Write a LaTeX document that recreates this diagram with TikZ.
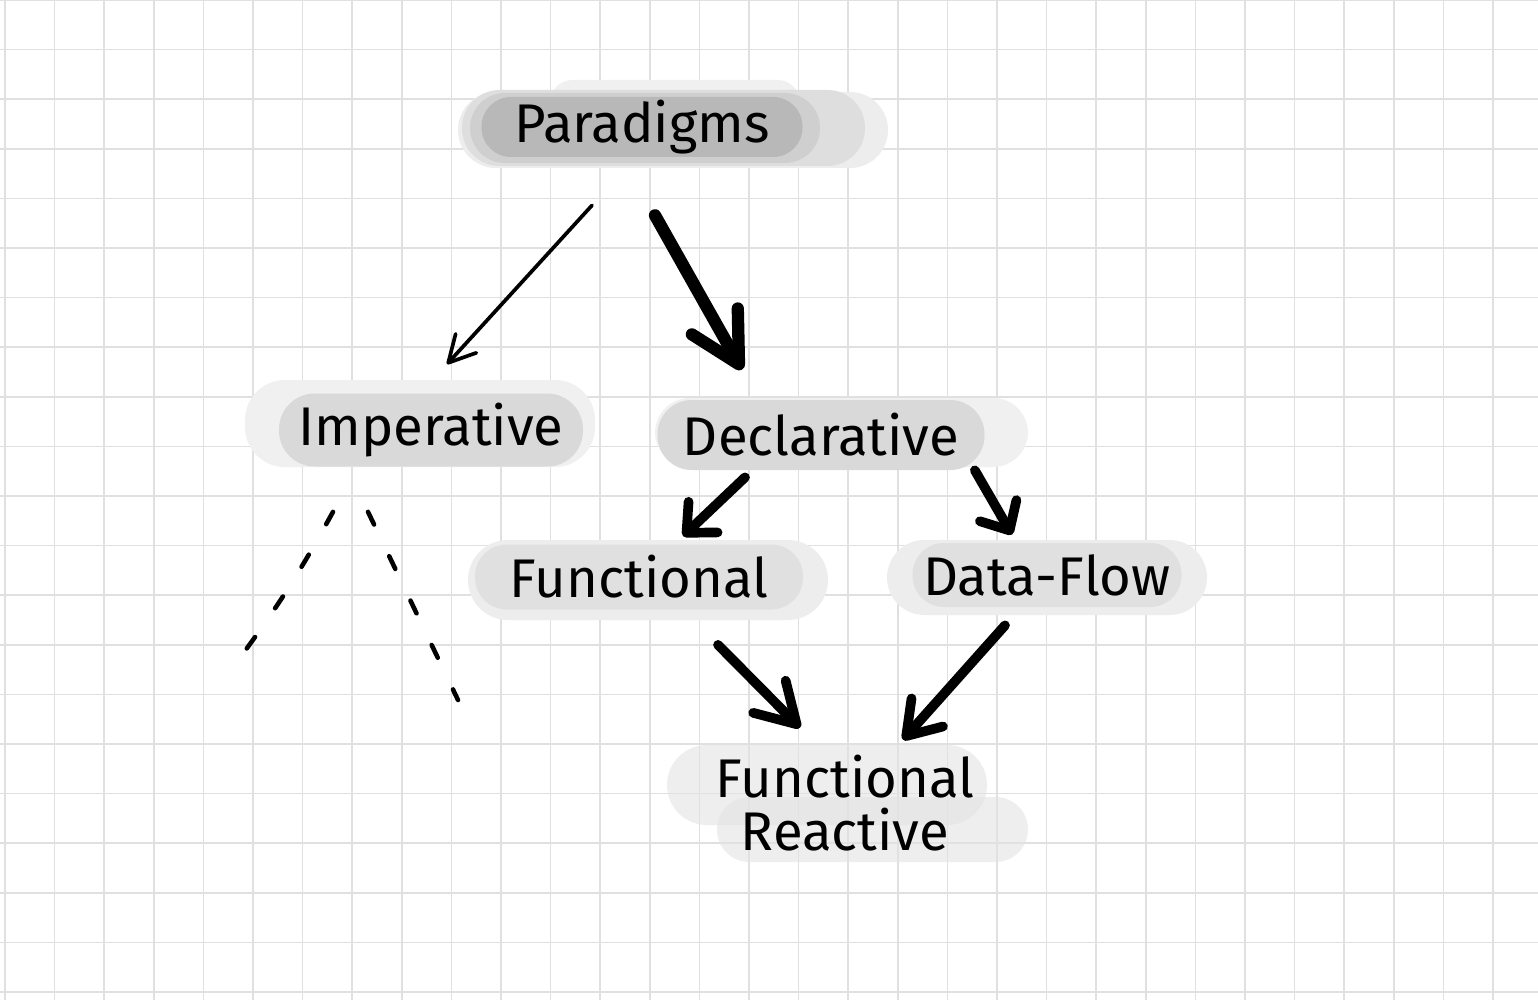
\documentclass[tikz,border=0pt]{standalone}
\usepackage{fontspec}
\setmainfont{Fira Sans}
\usetikzlibrary{arrows.meta}

\begin{document}
\begin{tikzpicture}[x=0.02cm, y=-0.02cm,
    grila/.style={draw=black!12, line width=0.9pt},
    capsula/.style 2 args={rectangle, minimum width=#1*0.02cm, minimum height=#2*0.02cm,
      rounded corners=#2*0.0098cm, inner sep=0pt, font=\fontsize{31}{30}\selectfont},
    subtire/.style={line width=2.1pt, line cap=round,
      -{Straight Barb[length=15pt,width=16pt,round]}},
    gros/.style={line width=5.5pt, line cap=round, line join=round},
    punctat/.style={line width=2.6pt, line cap=round, dash pattern=on 8pt off 20pt}]
    % Fundal si dimensiune (1538 x 1000 px)
    \fill[white] (0,0) rectangle (1538,1000);
    \useasboundingbox (0,0) rectangle (1538,1000);
    % Grila de fundal
    \foreach \i in {0,...,30} {
      \draw[grila] ({5+49.6*\i},0) -- ({5+49.6*\i},1000);
    }
    \foreach \j in {0,...,20} {
      \draw[grila] (0,{49.6*\j}) -- (1538,{49.6*\j});
    }
    % Pete gri in spatele etichetelor
    \fill[black!7,  rounded corners=0.76cm] (458,92) rectangle (888,168);
    \fill[black!6,  rounded corners=0.45cm] (550,80) rectangle (800,124);
    \fill[black!13, rounded corners=0.75cm] (462,90) rectangle (865,166);
    \fill[black!19, rounded corners=0.7cm]  (470,93) rectangle (820,163);
    \fill[black!6,  rounded corners=0.8cm]  (245,380) rectangle (595,467);
    \fill[black!6,  rounded corners=0.7cm]  (655,398) rectangle (1028,467);
    \fill[black!7,  rounded corners=0.8cm]  (468,540) rectangle (828,620);
    \fill[black!7,  rounded corners=0.75cm] (887,540) rectangle (1207,615);
    \fill[black!11, fill opacity=0.6, rounded corners=0.8cm] (667,745) rectangle (987,825);
    \fill[black!11, fill opacity=0.6, rounded corners=0.65cm] (717,797) rectangle (1028,862);
    % Etichete
    \node[capsula={321}{60}, fill=black!28] (par) at (642,127) {Paradigms};
    \node[capsula={304}{73}, fill=black!15] (imp) at (431,430) {Imperative};
    \node[capsula={327}{70}, fill=black!15] (dec) at (821,435) {Declarative};
    \node[capsula={328}{65}, fill=black!12] (fun) at (639,577) {Functional};
    \node[capsula={269}{64}, fill=black!12] (df)  at (1047,575) {Data-Flow};
    \node[capsula={320}{120}, align=center] (fr) at (845,803) {Functional\\Reactive};
    % Sageti
    \draw[subtire] ([shift={(-50,48)}]par.south) -- ([shift={(16,-29)}]imp.north);
    \draw[gros, line width=7pt, -{Straight Barb[length=28pt,width=30pt,round]}]
      ([shift={(13,58)}]par.south) -- ([shift={(-79,-30)}]dec.north);
    \draw[gros, -{Straight Barb[length=13pt,width=24pt,round]}]
      ([shift={(-76,7)}]dec.south) -- ([shift={(44,-8)}]fun.north);
    \draw[gros, -{Straight Barb[length=13pt,width=24pt,round]}]
      ([shift={(-10,0)}]dec.south east) -- ([shift={(-35,-8)}]df.north);
    \draw[gros, -{Straight Barb[length=22pt,width=26pt,round]}]
      ([shift={(79,35)}]fun.south) -- ([shift={(-45,-15)}]fr.north);
    \draw[gros, -{Straight Barb[length=18pt,width=24pt,round]}]
      ([shift={(-42,18)}]df.south) -- ([shift={(58,-3)}]fr.north);
    % Ramuri punctate sub Imperative
    \coordinate (capStanga)  at (233,667);
    \coordinate (capDreapta) at (458,700);
    \draw[punctat] ([shift={(-98,45)}]imp.south) to[bend left=4] (capStanga);
    \draw[punctat] ([shift={(-63,45)}]imp.south) -- (capDreapta);
\end{tikzpicture}
\end{document}
